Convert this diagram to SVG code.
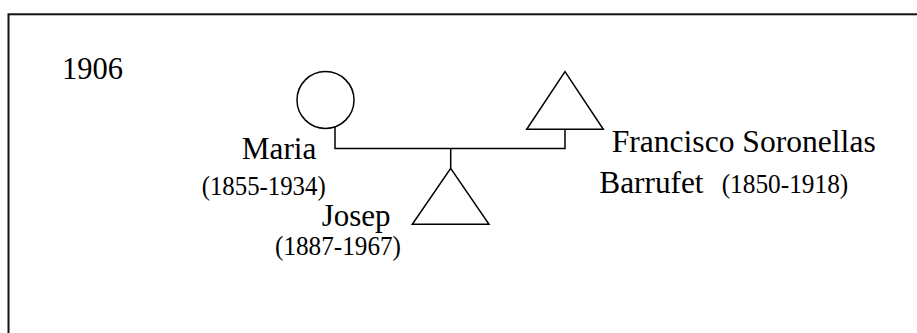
<svg xmlns="http://www.w3.org/2000/svg" width="917" height="333" viewBox="0 0 917 333">
<style>
.shape{fill:none;stroke:#000;stroke-width:1.5}
.conn{fill:none;stroke:#000;stroke-width:1.5}
</style>
<rect x="8.5" y="14.3" width="930" height="340" fill="#fff" stroke="#111" stroke-width="2"/>
<g font-family="Liberation Serif, serif" fill="#000">
<text x="62" y="79" font-size="30.5">1906</text>
<g id="connectors">
<polyline class="conn" points="335,127 335,148.5 565,148.5 565,129.3"/>
<line class="conn" x1="450.7" y1="148.5" x2="450.7" y2="168.3"/>
</g>
<g id="maria">
<circle class="shape" cx="325.5" cy="100" r="28.5"/>
<text x="241.7" y="159.3" font-size="31.3">Maria</text>
<text x="201.7" y="195" font-size="28" textLength="124" lengthAdjust="spacingAndGlyphs">(1855-1934)</text>
</g>
<g id="francisco">
<polygon class="shape" points="565,71.7 603.3,129.3 526.7,129.3"/>
<text x="611.7" y="151.7" font-size="31.3" textLength="264" lengthAdjust="spacingAndGlyphs">Francisco Soronellas</text>
<text x="599.3" y="193.3" font-size="31.3">Barrufet</text>
<text x="721.7" y="193.3" font-size="28" textLength="126.6" lengthAdjust="spacingAndGlyphs">(1850-1918)</text>
</g>
<g id="josep">
<polygon class="shape" points="450.7,168.3 489,224.3 412.3,224.3"/>
<text x="321.7" y="226" font-size="31">Josep</text>
<text x="275" y="255" font-size="28" textLength="126" lengthAdjust="spacingAndGlyphs">(1887-1967)</text>
</g>
</g>
</svg>
